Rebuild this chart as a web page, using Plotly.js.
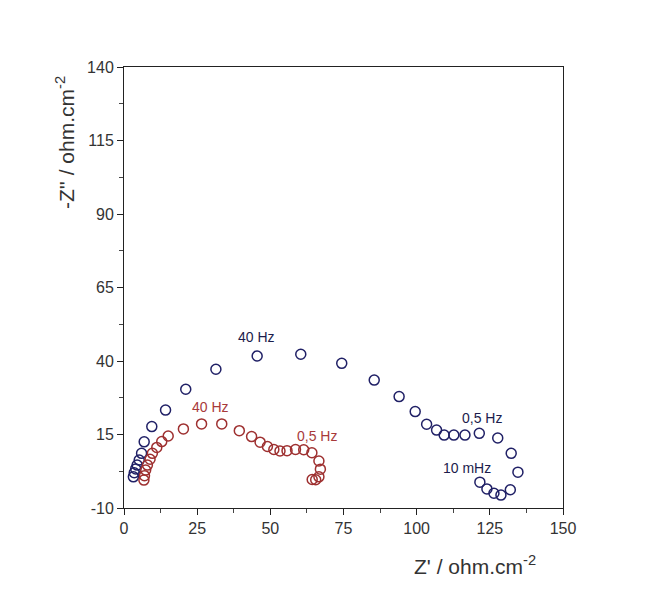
<!DOCTYPE html>
<html>
<head>
<meta charset="utf-8">
<script src="https://cdn.plot.ly/plotly-3.0.1.min.js"></script>
<style>html,body{margin:0;padding:0;background:#fff;}#chart{width:668px;height:600px;}</style>
</head>
<body>
<div id="chart"></div>
<script>
// Blue series (Z', -Z'')
var blueX = [3.2,3.5,4.0,4.5,5.2,6.0,6.9,9.5,14.2,21.1,31.4,45.5,60.4,74.4,85.5,94.0,99.5,103.4,106.8,109.4,112.7,116.5,121.4,127.7,132.3,134.6,132.0,128.8,126.4,124.0,121.6];
var blueY = [0.6,2.0,3.3,4.6,6.3,8.6,12.5,17.7,23.3,30.4,37.2,41.7,42.3,39.2,33.5,27.9,22.8,18.5,16.5,14.8,14.8,14.8,15.4,13.8,8.6,2.2,-3.8,-5.6,-5.0,-3.5,-1.2];
// Red series
var redX = [6.8,7.0,7.4,8.0,8.9,9.7,11.2,12.9,15.1,20.3,26.5,33.4,39.4,43.6,46.5,49.0,51.2,53.3,55.7,58.6,61.4,64.2,66.6,67.1,66.6,65.5,64.3];
var redY = [-0.5,1.0,2.9,4.6,6.6,8.6,10.6,12.6,14.5,16.9,18.6,18.6,16.3,14.3,12.4,10.9,9.9,9.4,9.5,9.9,9.8,8.8,6.0,3.2,0.6,-0.4,-0.3];
// Frequency labels
var labelText = ["40 Hz","0,5 Hz","10 mHz","40 Hz","0,5 Hz"];
var labelX = [45.4,122.2,117.1,29.4,65.8];
var labelY = [48.2,20.7,3.5,24.2,14.5];
var labelSeries = ["blue","blue","blue","red","red"];
// Axis ticks
var xTicks = [0,25,50,75,100,125,150];
var yTicks = [-10,15,40,65,90,115,140];

var colors = {blue:"#202066", red:"#9e3030"};
var textColors = {blue:"#1c1c4c", red:"#a83a3a"};

var traces = [
  {x: blueX, y: blueY, mode: "markers", type: "scatter",
   marker: {symbol: "circle-open", size: 10, color: colors.blue, line: {width: 1.5, color: colors.blue}}},
  {x: redX, y: redY, mode: "markers", type: "scatter",
   marker: {symbol: "circle-open", size: 10, color: colors.red, line: {width: 1.5, color: colors.red}}}
];

var annotations = labelText.map(function(t, i){
  return {x: labelX[i], y: labelY[i], xref: "x", yref: "y", text: t, showarrow: false,
    font: {family: "Liberation Sans, Arial, sans-serif", size: 14, color: textColors[labelSeries[i]]}};
});
annotations.push({xref: "paper", yref: "paper", x: 0.80, y: -0.129, xanchor: "center", yanchor: "middle",
  text: "Z' / ohm.cm<sup>-2</sup>", showarrow: false,
  font: {family: "Liberation Sans, Arial, sans-serif", size: 21, color: "#333"}});
annotations.push({xref: "paper", yref: "paper", x: -0.134, y: 0.828, xanchor: "center", yanchor: "middle",
  text: "-Z'' / ohm.cm<sup>-2</sup>", textangle: -90, showarrow: false,
  font: {family: "Liberation Sans, Arial, sans-serif", size: 21, color: "#333"}});

var axisCommon = {
  showgrid: false, zeroline: false, showline: true, linecolor: "#222", linewidth: 1,
  mirror: true, ticks: "outside", ticklen: 6, tickwidth: 1, tickcolor: "#222",
  tickfont: {family: "Liberation Sans, Arial, sans-serif", size: 16, color: "#333"},
  minor: {ticks: "outside", ticklen: 4, tickwidth: 1, tickcolor: "#444"}
};

var layout = {
  width: 668, height: 600,
  margin: {l: 124, r: 105, t: 67, b: 92},
  paper_bgcolor: "#fff", plot_bgcolor: "#fff",
  showlegend: false,
  xaxis: Object.assign({}, axisCommon, {range: [0,150], tickmode: "array", tickvals: xTicks,
    ticktext: xTicks.map(String), minor: Object.assign({}, axisCommon.minor, {dtick: 12.5, tick0: 0})}),
  yaxis: Object.assign({}, axisCommon, {range: [-10,140], tickmode: "array", tickvals: yTicks,
    ticktext: yTicks.map(String), minor: Object.assign({}, axisCommon.minor, {dtick: 12.5, tick0: -10})}),
  annotations: annotations
};

Plotly.newPlot("chart", traces, layout, {displayModeBar: false, staticPlot: true});
</script>
</body>
</html>
